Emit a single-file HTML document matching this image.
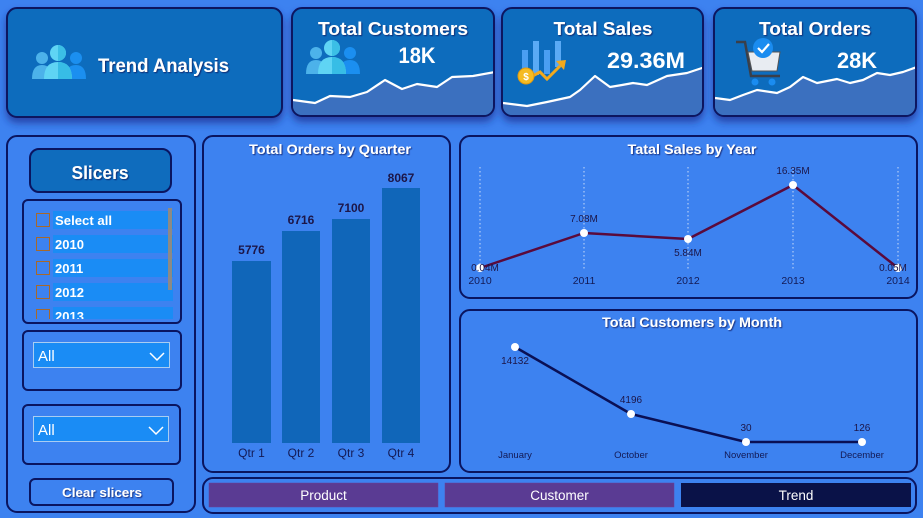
<!DOCTYPE html>
<html><head><meta charset="utf-8"><style>
html,body{margin:0;padding:0;background:#3d82f0;width:923px;height:518px;overflow:hidden}
svg{display:block}
text{font-family:"Liberation Sans",sans-serif}
</style></head><body>
<svg width="923" height="518" viewBox="0 0 923 518" xmlns="http://www.w3.org/2000/svg">
<defs>
<filter id="sh" x="-10%" y="-10%" width="120%" height="140%">
<feDropShadow dx="0" dy="5" stdDeviation="4" flood-color="#1a2a8a" flood-opacity="0.7"/>
</filter>
<filter id="ts" x="-5%" y="-20%" width="110%" height="150%">
<feDropShadow dx="1" dy="1" stdDeviation="0.4" flood-color="#0a1a60" flood-opacity="0.8"/>
</filter>
<clipPath id="c2"><rect x="293" y="9" width="200" height="106" rx="9"/></clipPath>
<clipPath id="c3"><rect x="503" y="9" width="199" height="106" rx="9"/></clipPath>
<clipPath id="c4"><rect x="715" y="9" width="200" height="106" rx="9"/></clipPath>
<clipPath id="lst"><rect x="24" y="202" width="156" height="117"/></clipPath>
<g id="ppl">
<circle cx="10" cy="12" r="6" fill="#4cb2ea"/>
<path d="M0,33 Q0,19 10,19 Q20,19 20,33 Z" fill="#4cb2ea"/>
<circle cx="44" cy="12" r="6" fill="#1b8ff0"/>
<path d="M33,33 Q33,19 44,19 Q54,19 54,33 Z" fill="#1b8ff0"/>
<circle cx="26" cy="7" r="8" fill="#5fd4f4"/>
<path d="M26,-1 A8,8 0 0 1 26,15 Z" fill="#3bbfe6"/>
<path d="M12,33 Q12,16 26,16 Q40,16 40,33 Z" fill="#5fd4f4"/>
<path d="M26,16 Q40,16 40,33 L26,33 Z" fill="#37bde6"/>
</g>
</defs>

<!-- Top cards -->
<g filter="url(#sh)">
<rect x="7" y="8" width="275" height="109" rx="10" fill="#0f6cbd" stroke="#0a1560" stroke-width="2"/>
<rect x="292" y="8" width="202" height="108" rx="10" fill="#0f6cbd" stroke="#0a1560" stroke-width="2"/>
<rect x="502" y="8" width="201" height="108" rx="10" fill="#0f6cbd" stroke="#0a1560" stroke-width="2"/>
<rect x="714" y="8" width="202" height="108" rx="10" fill="#0f6cbd" stroke="#0a1560" stroke-width="2"/>
</g>

<!-- Card 1 -->
<use href="#ppl" x="32" y="46"/>
<text x="98" y="72" font-size="19" font-weight="bold" fill="#fff" textLength="131" lengthAdjust="spacingAndGlyphs" filter="url(#ts)">Trend Analysis</text>

<!-- Card 2 -->
<g clip-path="url(#c2)">
<path d="M293,100 L315,103 L330,96 L350,97 L367,92 L385,80 L402,89 L417,84 L437,87 L452,77 L473,76 L495,72 L495,118 L293,118 Z" fill="#3b70bf"/>
<path d="M293,100 L315,103 L330,96 L350,97 L367,92 L385,80 L402,89 L417,84 L437,87 L452,77 L473,76 L495,72" fill="none" stroke="#fff" stroke-width="2.2" stroke-linejoin="round"/>
</g>
<use href="#ppl" x="306" y="41"/>
<text x="393" y="35" font-size="18" font-weight="bold" fill="#fff" text-anchor="middle" textLength="150" lengthAdjust="spacingAndGlyphs" filter="url(#ts)">Total Customers</text>
<text x="417" y="63" font-size="22" font-weight="bold" fill="#fff" text-anchor="middle" textLength="37" lengthAdjust="spacingAndGlyphs">18K</text>

<!-- Card 3 -->
<g clip-path="url(#c3)">
<path d="M503,103 L527,106 L547,102 L570,97 L580,90 L595,76 L610,87 L622,85 L633,83 L647,85 L667,76 L687,73 L705,67 L705,118 L503,118 Z" fill="#3b70bf"/>
<path d="M503,103 L527,106 L547,102 L570,97 L580,90 L595,76 L610,87 L622,85 L633,83 L647,85 L667,76 L687,73 L705,67" fill="none" stroke="#fff" stroke-width="2.2" stroke-linejoin="round"/>
</g>
<rect x="522" y="50" width="6" height="28" fill="#4a9ef2"/>
<rect x="533" y="41" width="6" height="34" fill="#5aaaf5"/>
<rect x="544" y="50" width="6" height="24" fill="#4a9ef2"/>
<rect x="555" y="41" width="6" height="26" fill="#5aaaf5"/>
<path d="M531,77 L540,72 L547,79 L560,66" fill="none" stroke="#f2a91d" stroke-width="3"/>
<path d="M556,61 L566,60 L564,70 Z" fill="#f2a91d"/>
<circle cx="526" cy="76" r="8" fill="#f5bb22" stroke="#e09a10" stroke-width="1"/>
<text x="526" y="80" font-size="10" font-weight="bold" fill="#fff" text-anchor="middle">$</text>
<text x="603" y="35" font-size="18" font-weight="bold" fill="#fff" text-anchor="middle" textLength="99" lengthAdjust="spacingAndGlyphs" filter="url(#ts)">Total Sales</text>
<text x="646" y="68" font-size="22" font-weight="bold" fill="#fff" text-anchor="middle" textLength="78" lengthAdjust="spacingAndGlyphs">29.36M</text>

<!-- Card 4 -->
<g clip-path="url(#c4)">
<path d="M715,98 L730,100 L743,95 L757,90 L777,93 L790,87 L803,77 L817,83 L837,79 L850,83 L863,80 L877,73 L890,75 L903,72 L917,67 L917,118 L715,118 Z" fill="#3b70bf"/>
<path d="M715,98 L730,100 L743,95 L757,90 L777,93 L790,87 L803,77 L817,83 L837,79 L850,83 L863,80 L877,73 L890,75 L903,72 L917,67" fill="none" stroke="#fff" stroke-width="2.2" stroke-linejoin="round"/>
</g>
<path d="M736,42 L745,42 L751,76 L780,76" fill="none" stroke="#3a3f4a" stroke-width="2.5"/>
<path d="M748,52 L780,52 L777,71 L752,71 Z" fill="#e8ecf2" stroke="#555" stroke-width="1"/>
<circle cx="755" cy="82" r="3.5" fill="#1a8cf0"/>
<circle cx="772" cy="82" r="3.5" fill="#1a8cf0"/>
<circle cx="763" cy="48" r="10" fill="#1a8cf0"/>
<path d="M758,48 L762,52 L769,44" fill="none" stroke="#fff" stroke-width="2.2"/>
<text x="815" y="35" font-size="18" font-weight="bold" fill="#fff" text-anchor="middle" textLength="112" lengthAdjust="spacingAndGlyphs" filter="url(#ts)">Total Orders</text>
<text x="857" y="68" font-size="22" font-weight="bold" fill="#fff" text-anchor="middle" textLength="40" lengthAdjust="spacingAndGlyphs">28K</text>

<!-- Left panel -->
<rect x="7" y="136" width="188" height="376" rx="10" fill="none" stroke="#0a1560" stroke-width="2"/>
<rect x="30" y="149" width="141" height="43" rx="9" fill="#0f6cbd" stroke="#0a1560" stroke-width="2"/>
<text x="100" y="179" font-size="18" font-weight="bold" fill="#fff" text-anchor="middle" textLength="57" lengthAdjust="spacingAndGlyphs" filter="url(#ts)">Slicers</text>

<rect x="23" y="200" width="158" height="123" rx="5" fill="none" stroke="#0a1560" stroke-width="2"/>
<g clip-path="url(#lst)">
<g font-size="13" font-weight="bold" fill="#fff">
<rect x="53" y="211" width="120" height="18" fill="#1a8cf5"/>
<rect x="36.5" y="213.5" width="13" height="13" fill="none" stroke="#a8692a" stroke-width="1"/>
<text x="55" y="225" textLength="57" lengthAdjust="spacingAndGlyphs">Select all</text>
<rect x="53" y="235" width="120" height="18" fill="#1a8cf5"/>
<rect x="36.5" y="237.5" width="13" height="13" fill="none" stroke="#a8692a" stroke-width="1"/>
<text x="55" y="249">2010</text>
<rect x="53" y="259" width="120" height="18" fill="#1a8cf5"/>
<rect x="36.5" y="261.5" width="13" height="13" fill="none" stroke="#a8692a" stroke-width="1"/>
<text x="55" y="273">2011</text>
<rect x="53" y="283" width="120" height="18" fill="#1a8cf5"/>
<rect x="36.5" y="285.5" width="13" height="13" fill="none" stroke="#a8692a" stroke-width="1"/>
<text x="55" y="297">2012</text>
<rect x="53" y="307" width="120" height="18" fill="#1a8cf5"/>
<rect x="36.5" y="309.5" width="13" height="13" fill="none" stroke="#a8692a" stroke-width="1"/>
<text x="55" y="321">2013</text>
</g>
</g>
<rect x="168" y="208" width="4" height="82" fill="#8c8a86"/>

<rect x="23" y="331" width="158" height="59" rx="5" fill="none" stroke="#0a1560" stroke-width="2"/>
<rect x="33.5" y="342.5" width="136" height="25" fill="#1a8cf5" stroke="#a9cdf2" stroke-width="1"/>
<text x="38" y="361" font-size="15" fill="#fff">All</text>
<path d="M150,353 L157,360 L164,353" fill="none" stroke="#fff" stroke-width="1.5"/>

<rect x="23" y="405" width="157" height="59" rx="5" fill="none" stroke="#0a1560" stroke-width="2"/>
<rect x="33.5" y="416.5" width="135" height="25" fill="#1a8cf5" stroke="#a9cdf2" stroke-width="1"/>
<text x="38" y="435" font-size="15" fill="#fff">All</text>
<path d="M149,427 L156,434 L163,427" fill="none" stroke="#fff" stroke-width="1.5"/>

<rect x="30" y="479" width="143" height="26" rx="5" fill="none" stroke="#0a1560" stroke-width="2"/>
<text x="102" y="497" font-size="13" font-weight="bold" fill="#fff" text-anchor="middle" textLength="80" lengthAdjust="spacingAndGlyphs" filter="url(#ts)">Clear slicers</text>

<!-- Bar chart -->
<rect x="203" y="136" width="247" height="336" rx="10" fill="none" stroke="#0a1560" stroke-width="2"/>
<text x="330" y="154" font-size="14" font-weight="bold" fill="#fff" text-anchor="middle" textLength="162" lengthAdjust="spacingAndGlyphs" filter="url(#ts)">Total Orders by Quarter</text>
<g fill="#1066b9">
<rect x="232" y="261" width="39" height="182"/>
<rect x="282" y="231" width="38" height="212"/>
<rect x="332" y="219" width="38" height="224"/>
<rect x="382" y="188" width="38" height="255"/>
</g>
<g font-size="12" font-weight="bold" fill="#1c1648" text-anchor="middle">
<text x="251.5" y="254">5776</text>
<text x="301" y="224">6716</text>
<text x="351" y="212">7100</text>
<text x="401" y="182">8067</text>
</g>
<g font-size="12" fill="#131a55" text-anchor="middle">
<text x="251.5" y="457">Qtr 1</text>
<text x="301" y="457">Qtr 2</text>
<text x="351" y="457">Qtr 3</text>
<text x="401" y="457">Qtr 4</text>
</g>

<!-- Sales by year -->
<rect x="460" y="136" width="457" height="162" rx="10" fill="none" stroke="#0a1560" stroke-width="2"/>
<text x="692" y="154" font-size="14" font-weight="bold" fill="#fff" text-anchor="middle" textLength="129" lengthAdjust="spacingAndGlyphs" filter="url(#ts)">Tatal Sales by Year</text>
<g stroke="#c9dcf8" stroke-width="1" stroke-dasharray="1.5,2.5">
<line x1="480" y1="167" x2="480" y2="270"/>
<line x1="584" y1="167" x2="584" y2="270"/>
<line x1="688" y1="167" x2="688" y2="270"/>
<line x1="793" y1="167" x2="793" y2="270"/>
<line x1="898" y1="167" x2="898" y2="270"/>
</g>
<path d="M480,268 L584,233 L688,239 L793,185 L898,268" fill="none" stroke="#5a0a3c" stroke-width="2.5" stroke-linejoin="round"/>
<g fill="#fff">
<circle cx="480" cy="268" r="4"/>
<circle cx="584" cy="233" r="4"/>
<circle cx="688" cy="239" r="4"/>
<circle cx="793" cy="185" r="4"/>
<circle cx="898" cy="268" r="4"/>
</g>
<g font-size="10" fill="#1c1648" text-anchor="middle">
<text x="485" y="271">0.04M</text>
<text x="584" y="222">7.08M</text>
<text x="688" y="256">5.84M</text>
<text x="793" y="174">16.35M</text>
<text x="893" y="271">0.05M</text>
</g>
<g font-size="10.5" fill="#131a55" text-anchor="middle">
<text x="480" y="284">2010</text>
<text x="584" y="284">2011</text>
<text x="688" y="284">2012</text>
<text x="793" y="284">2013</text>
<text x="898" y="284">2014</text>
</g>

<!-- Customers by month -->
<rect x="460" y="310" width="457" height="162" rx="10" fill="none" stroke="#0a1560" stroke-width="2"/>
<text x="692" y="327" font-size="14" font-weight="bold" fill="#fff" text-anchor="middle" textLength="180" lengthAdjust="spacingAndGlyphs" filter="url(#ts)">Total Customers by Month</text>
<path d="M515,347 L631,414 L746,442 L862,442" fill="none" stroke="#0a1055" stroke-width="2.5" stroke-linejoin="round"/>
<g fill="#fff">
<circle cx="515" cy="347" r="4"/>
<circle cx="631" cy="414" r="4"/>
<circle cx="746" cy="442" r="4"/>
<circle cx="862" cy="442" r="4"/>
</g>
<g font-size="10" fill="#1c1648" text-anchor="middle">
<text x="515" y="364">14132</text>
<text x="631" y="403">4196</text>
<text x="746" y="431">30</text>
<text x="862" y="431">126</text>
</g>
<g font-size="9.5" fill="#131a55" text-anchor="middle">
<text x="515" y="458">January</text>
<text x="631" y="458">October</text>
<text x="746" y="458">November</text>
<text x="862" y="458">December</text>
</g>

<!-- Nav -->
<rect x="203" y="478" width="713" height="35" rx="10" fill="none" stroke="#0a1560" stroke-width="2"/>
<rect x="209" y="483" width="229" height="24" fill="#5a3b93" stroke="#6a3f9a" stroke-width="0.5"/>
<rect x="445" y="483" width="229" height="24" fill="#5a3b93" stroke="#6a3f9a" stroke-width="0.5"/>
<rect x="681" y="483" width="230" height="24" fill="#0a1248"/>
<g font-size="13.5" fill="#fff" text-anchor="middle">
<text x="323.5" y="500">Product</text>
<text x="559.5" y="500">Customer</text>
<text x="796" y="500">Trend</text>
</g>
</svg>
</body></html>
